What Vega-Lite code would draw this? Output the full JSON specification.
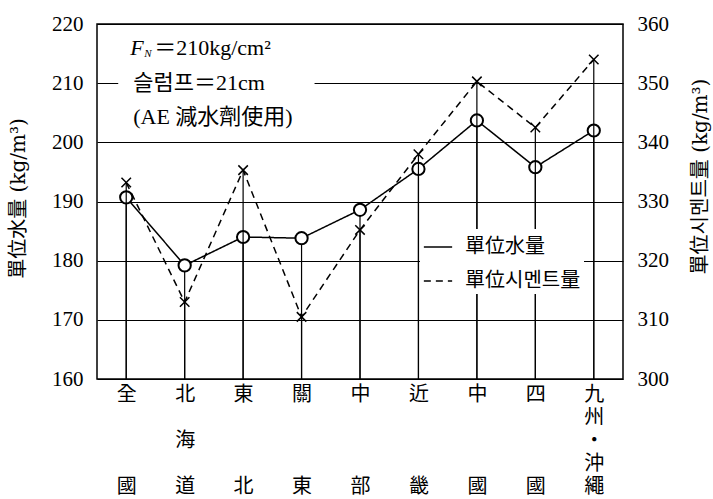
{
  "$schema": "https://vega.github.io/schema/vega-lite/v6.json",
  "width": 526,
  "height": 355,
  "autosize": {"type": "none"},
  "padding": {"left": 97, "top": 24, "right": 90, "bottom": 120},
  "background": "white",
  "config": {
    "view": {"stroke": "black", "strokeWidth": 1.5},
    "font": "Liberation Serif, Noto Sans CJK KR"
  },
  "datasets": {
    "main": [
      {"region": "全國", "water": 190.7, "cement": 333.2},
      {"region": "北海道", "water": 179.2, "cement": 313.0},
      {"region": "東北", "water": 184.0, "cement": 335.3},
      {"region": "關東", "water": 183.8, "cement": 310.5},
      {"region": "中部", "water": 188.6, "cement": 325.2},
      {"region": "近畿", "water": 195.5, "cement": 338.0},
      {"region": "中國", "water": 203.7, "cement": 350.3},
      {"region": "四國", "water": 195.8, "cement": 342.5},
      {"region": "九州・沖繩", "water": 202.0, "cement": 354.0}
    ],
    "notesF": [{"region": "全國", "val": 215.9, "text": "F"}],
    "notesN": [{"region": "全國", "val": 215.0, "text": "N"}],
    "notesEq": [{"region": "全國", "val": 215.9, "text": "＝210kg/cm²"}],
    "notes": [
      {"region": "全國", "val": 210.0, "text": "슬럼프＝21cm"},
      {"region": "全國", "val": 204.3, "text": "(AE 減水劑使用)"}
    ],
    "gap": [{"a": "全國", "b": "關東", "y1": 209.3, "y2": 210.7}]
  },
  "layer": [
    {
      "layer": [
        {
          "data": {"name": "main"},
          "mark": {"type": "rule", "color": "black", "strokeWidth": 1.2},
          "encoding": {
            "x": {
              "field": "region", "type": "nominal", "sort": null, "title": null,
              "scale": {"type": "point", "padding": 0.5,
                "domain": ["全國", "北海道", "東北", "關東", "中部", "近畿", "中國", "四國", "九州・沖繩"]},
              "axis": {
                "title": null, "ticks": false, "domain": false, "labelAngle": 0,
                "labelFont": "Noto Sans CJK KR", "labelFontSize": 20, "labelLineHeight": 23,
                "labelBaseline": "top", "labelPadding": 5, "labelColor": "black",
                "labelExpr": "length(datum.label)==2 ? [datum.label[0],'\u200b','\u200b','\u200b',datum.label[1]] : (length(datum.label)==3 ? [datum.label[0],'\u200b',datum.label[1],'\u200b',datum.label[2]] : split(datum.label,''))"
              }
            },
            "y": {
              "field": "water", "type": "quantitative", "title": "單位水量 (kg/m³)",
              "scale": {"domain": [160, 220], "nice": false, "zero": false},
              "axis": {
                "values": [160, 170, 180, 190, 200, 210, 220],
                "grid": true, "gridColor": "black", "gridWidth": 1.2, "gridOpacity": 1,
                "ticks": false, "domain": false, "labelFlush": false,
                "labelFont": "Liberation Serif", "labelFontSize": 21, "labelPadding": 14, "labelColor": "black",
                "titleFont": "DejaVu Serif, Noto Sans CJK KR",
                "titleFontSize": 20, "titleFontWeight": "normal", "titleColor": "black",
                "titleAngle": 270, "titleX": -79, "titleY": 174, "titleBaseline": "middle", "titleAlign": "center"
              }
            },
            "y2": {"datum": 160}
          }
        },
        {
          "data": {"name": "gap"},
          "mark": {"type": "rect", "fill": "white", "xOffset": -8, "x2Offset": 13},
          "encoding": {
            "x": {"field": "a", "type": "nominal", "title": null},
            "x2": {"field": "b"},
            "y": {"field": "y1", "type": "quantitative", "title": "單位水量 (kg/m³)"},
            "y2": {"field": "y2"}
          }
        },
        {
          "data": {"name": "main"},
          "mark": {"type": "line", "color": "black", "strokeWidth": 1.5},
          "encoding": {
            "x": {"field": "region", "type": "nominal", "sort": null, "title": null},
            "y": {"field": "water", "type": "quantitative", "title": "單位水量 (kg/m³)"},
            "strokeDash": {
              "datum": "單位水量",
              "scale": {"domain": ["單位水量", "單位시멘트量"], "range": [[1, 0], [7, 5]]},
              "legend": {
                "title": null, "orient": "none", "legendX": 323, "legendY": 205,
                "symbolType": "stroke", "symbolSize": 800, "symbolStrokeWidth": 1.5,
                "symbolStrokeColor": "black", "labelFont": "Noto Sans CJK KR",
                "labelFontSize": 20, "labelColor": "black", "labelOffset": 12,
                "rowPadding": 9, "fillColor": "white", "padding": 3
              }
            }
          }
        },
        {
          "data": {"name": "main"},
          "mark": {"type": "point", "shape": "circle", "size": 150, "filled": true,
            "fill": "white", "stroke": "black", "strokeWidth": 2, "opacity": 1},
          "encoding": {
            "x": {"field": "region", "type": "nominal", "sort": null, "title": null},
            "y": {"field": "water", "type": "quantitative", "title": "單位水量 (kg/m³)"}
          }
        },
        {
          "data": {"name": "notesF"},
          "mark": {"type": "text", "align": "left", "baseline": "middle", "dx": 4,
            "font": "Liberation Serif", "fontStyle": "italic", "fontSize": 22, "color": "black"},
          "encoding": {
            "x": {"field": "region", "type": "nominal", "title": null},
            "y": {"field": "val", "type": "quantitative", "title": "單位水量 (kg/m³)"},
            "text": {"field": "text"}
          }
        },
        {
          "data": {"name": "notesN"},
          "mark": {"type": "text", "align": "left", "baseline": "middle", "dx": 18,
            "font": "Liberation Serif", "fontStyle": "italic", "fontSize": 11, "color": "black"},
          "encoding": {
            "x": {"field": "region", "type": "nominal", "title": null},
            "y": {"field": "val", "type": "quantitative", "title": "單位水量 (kg/m³)"},
            "text": {"field": "text"}
          }
        },
        {
          "data": {"name": "notesEq"},
          "mark": {"type": "text", "align": "left", "baseline": "middle", "dx": 28,
            "font": "Liberation Serif, Noto Sans CJK KR", "fontSize": 22, "color": "black"},
          "encoding": {
            "x": {"field": "region", "type": "nominal", "title": null},
            "y": {"field": "val", "type": "quantitative", "title": "單位水量 (kg/m³)"},
            "text": {"field": "text"}
          }
        },
        {
          "data": {"name": "notes"},
          "mark": {"type": "text", "align": "left", "baseline": "middle", "dx": 7,
            "font": "Liberation Serif, Noto Sans CJK KR", "fontSize": 22, "color": "black"},
          "encoding": {
            "x": {"field": "region", "type": "nominal", "title": null},
            "y": {"field": "val", "type": "quantitative", "title": "單位水量 (kg/m³)"},
            "text": {"field": "text"}
          }
        }
      ]
    },
    {
      "layer": [
        {
          "data": {"name": "main"},
          "mark": {"type": "rule", "color": "black", "strokeWidth": 1.2},
          "encoding": {
            "x": {"field": "region", "type": "nominal", "sort": null, "title": null},
            "y": {
              "field": "cement", "type": "quantitative", "title": "單位시멘트量 (kg/m³)",
              "scale": {"domain": [300, 360], "nice": false, "zero": false},
              "axis": {
                "orient": "right",
                "values": [300, 310, 320, 330, 340, 350, 360],
                "grid": false, "ticks": false, "domain": false, "labelFlush": false,
                "labelFont": "Liberation Serif", "labelFontSize": 21, "labelPadding": 14, "labelColor": "black",
                "titleFont": "DejaVu Serif, Noto Sans CJK KR",
                "titleFontSize": 20, "titleFontWeight": "normal", "titleColor": "black",
                "titleAngle": 270, "titleX": 77, "titleY": 152, "titleBaseline": "middle", "titleAlign": "center"
              }
            },
            "y2": {"datum": 300}
          }
        },
        {
          "data": {"name": "main"},
          "mark": {"type": "line", "color": "black", "strokeWidth": 1.5},
          "encoding": {
            "x": {"field": "region", "type": "nominal", "sort": null, "title": null},
            "y": {"field": "cement", "type": "quantitative", "title": "單位시멘트量 (kg/m³)"},
            "strokeDash": {"datum": "單位시멘트量"}
          }
        },
        {
          "data": {"name": "main"},
          "mark": {"type": "point", "shape": "M-1,-1L1,1M-1,1L1,-1", "size": 90, "filled": false,
            "stroke": "black", "strokeWidth": 1.5, "opacity": 1},
          "encoding": {
            "x": {"field": "region", "type": "nominal", "sort": null, "title": null},
            "y": {"field": "cement", "type": "quantitative", "title": "單位시멘트量 (kg/m³)"}
          }
        }
      ]
    }
  ],
  "resolve": {"scale": {"y": "independent"}}
}
